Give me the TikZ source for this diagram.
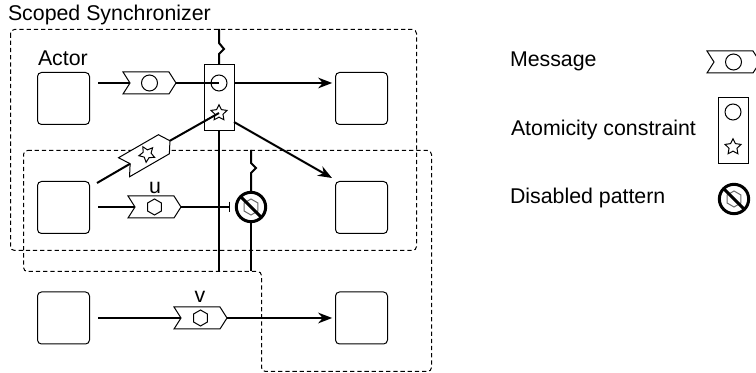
\documentclass[tikz,border=0pt]{standalone}
\usepackage{fontspec}
\setmainfont{Liberation Sans}
\usetikzlibrary{arrows.meta, positioning, shapes.geometric, shapes.symbols}

\begin{document}
\begin{tikzpicture}[
            x = 0.75pt,
            y = -0.75pt,
            > = {Stealth[length=10.5pt,width=8pt]},
            font = \fontsize{16pt}{18pt}\selectfont,
            inner sep = 0pt,
            outer sep = 0pt
        ]

        \tikzset{
            actor/.style={draw, line width=0.75pt, rounded corners=3pt, minimum size=39pt},
            message/.style={draw, fill=white, line width=0.75pt, signal, signal from=west, signal to=east,
                signal pointer angle=115, minimum width=39.75pt, minimum height=16.5pt},
            atomic/.style={draw, fill=white, line width=0.75pt, minimum width=22.5pt, minimum height=50pt},
            blob/.style={draw, circle, line width=0.75pt, minimum size=12pt},
            starmark/.style={draw, star, star points=5, star point ratio=2, line width=0.75pt, minimum size=12.5pt},
            hexmark/.style={draw, regular polygon, regular polygon sides=6, rotate=90, line width=0.75pt, minimum size=12pt},
            disabled/.style={draw, forbidden sign, rotate=90, line width=2.25pt, minimum size=22pt},
            txt/.style={anchor=base west},
            flow/.style={line width=1.5pt},
            scopeline/.style={draw=black, line width=0.75pt, dash pattern=on 3.2pt off 2.2pt, rounded corners=3pt}
        }

        \clip (0,0) rectangle (756,373);

        % scopes
        \draw[scopeline] (10.5,29.5) rectangle (416.5,250.5);
        \draw[scopeline] (23.5,150.5) -- (431.5,150.5) -- (431.5,371.5) -- (261.5,371.5) -- (261.5,271.5) -- (23.5,271.5) -- cycle;
        \node[txt] (title) at (8,21) {Scoped Synchronizer};

        % actors
        \node[actor] (a1) at (63.5,98.5) {};
        \node[actor] (a2) at (63.5,207.5) {};
        \node[actor] (a3) at (63.5,318) {};
        \node[actor] (b1) at (361.5,98.5) {};
        \node[actor] (b2) at (361.5,207.5) {};
        \node[actor] (b3) at (361.5,318) {};
        \node[txt] (actorlbl) at (38,66) {Actor};

        % messages
        \node[message] (m1) at (149.5,83) {};
        \node[blob] (m1c) at (m1) {};
        \node[message, rotate=30] (m2) at (147,154) {};
        \node[starmark, rotate=30] (m2s) at (m2) {};
        \node[message] (m3) at (154.5,207) {};
        \node[hexmark] (m3h) at (m3) {};
        \node[message] (m4) at (200.5,318) {};
        \node[hexmark] (m4h) at (m4) {};
        \node[anchor=base] (ulbl) at (155,194) {u};
        \node[anchor=base] (vlbl) at (200,303) {v};

        % constraint and disabled pattern
        \node[atomic] (con) at (219,97.5) {};
        \node[blob] (conc) at (219,83) {};
        \node[starmark] (cons) at (219,113) {};
        \node[hexmark, draw=black!60] (dish) at (251,207) {};
        \node[disabled] (dis) at (dish) {};

        % free ends
        \coordinate (t1) at (219,29);
        \coordinate (e1) at (219,271);
        \coordinate (t2) at (251,150);
        \coordinate (e2) at (251,271);
        \coordinate (s2) at (97,183);
        \coordinate (o2) at (234,122);
        \coordinate (h2) at (332,178);

        % flows
        \draw[flow, shorten <=6.5pt] (a1.east |- m1) -- (m1.west);
        \draw[flow] (m1.east) -- (conc.center);
        \draw[flow, ->, shorten >=2.5pt] (con.east |- conc) -- (b1.west |- conc);
        \draw[flow] (s2) -- (m2.west);
        \draw[flow] (m2.east) -- (cons.center);
        \draw[flow, ->] (o2) -- (h2);
        \draw[flow, shorten <=6.5pt] (a2.east |- m3) -- (m3.west);
        \draw[line width=1.1pt, {-Bar[width=8pt]}, shorten >=4.5pt] (m3.east) -- (dis.north);
        \draw[flow, shorten <=6.5pt] (a3.east |- m4) -- (m4.west);
        \draw[flow, ->, shorten >=2.5pt] (m4.east) -- (b3.west |- m4);

        % vertical lines
        \draw[flow] (t1) -- ++(0,14) -- ++(5,6) -- ++(-5,5) -- (con.north);
        \draw[flow] (con.south) -- (e1);
        \draw[flow] (t2) -- ++(0,13) -- ++(5,5) -- ++(-5,5) -- (dis.east);
        \draw[flow] (dis.west) -- (e2);

        % legend
        \node[txt] (lmsg) at (510,67) {Message};
        \node[message] (lm) at (733.5,62) {};
        \node[blob] (lmc) at (lm) {};
        \node[txt] (lcon) at (511,136) {Atomicity constraint};
        \node[atomic] (lbox) at (733,130.5) {};
        \node[blob] (lboxc) at (733,112) {};
        \node[starmark] (lboxs) at (733,147) {};
        \node[txt] (ldis) at (510,204) {Disabled pattern};
        \node[hexmark, draw=black!60] (ldish) at (734,199) {};
        \node[disabled] (ld) at (ldish) {};
\end{tikzpicture}
\end{document}
